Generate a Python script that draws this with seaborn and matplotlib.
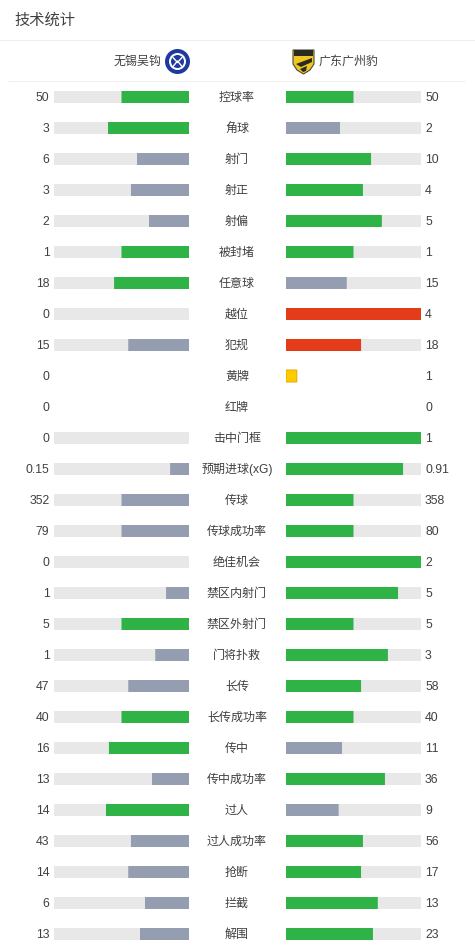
import matplotlib
matplotlib.use("Agg")
import matplotlib.pyplot as plt
from matplotlib.patches import Circle, Polygon, Rectangle
import pandas as pd
import seaborn as sns

sns.set_theme(style="white")
plt.rcParams['font.family'] = ['Liberation Sans', 'Noto Sans CJK SC', 'DejaVu Sans']
plt.rcParams['text.kerning_factor'] = 6

title = "技术统计"
home_team = "无锡吴钩"
away_team = "广东广州豹"
stats = ["控球率", "角球", "射门", "射正", "射偏", "被封堵", "任意球", "越位", "犯规", "黄牌",
         "红牌", "击中门框", "预期进球(xG)", "传球", "传球成功率", "绝佳机会", "禁区内射门",
         "禁区外射门", "门将扑救", "长传", "长传成功率", "传中", "传中成功率", "过人",
         "过人成功率", "抢断", "拦截", "解围"]
home_labels = ["50", "3", "6", "3", "2", "1", "18", "0", "15", "0", "0", "0", "0.15", "352",
               "79", "0", "1", "5", "1", "47", "40", "16", "13", "14", "43", "14", "6", "13"]
away_labels = ["50", "2", "10", "4", "5", "1", "15", "4", "18", "1", "0", "1", "0.91", "358",
               "80", "2", "5", "5", "3", "58", "40", "11", "36", "9", "56", "17", "13", "23"]
# bar lengths, percent of the track
home_share = [50, 60, 38.5, 43, 29.6, 50, 55.5, 0, 45, 0, 0, 0, 14, 50,
              50, 0, 17, 50, 25, 45, 50, 59.3, 27.4, 61.5, 43, 45, 32.6, 36.3]
away_share = [50, 40, 63, 57, 71, 50, 45, 100, 55.6, 8, 0, 100, 86.7, 50,
              50, 100, 83, 50, 75.5, 55.6, 50, 41.5, 73.3, 39, 57, 55.6, 68, 64.4]
home_track = [100] * 9 + [0, 0] + [100] * 17
away_track = [100] * 9 + [0, 0] + [100] * 17
home_kind = ["win", "win", "lose", "lose", "lose", "win", "win", "lose", "lose", "lose",
             "lose", "lose", "lose", "lose", "lose", "lose", "lose", "win", "lose", "lose",
             "win", "win", "lose", "win", "lose", "lose", "lose", "lose"]
away_kind = ["win", "lose", "win", "win", "win", "win", "lose", "foul", "foul", "card",
             "lose", "win", "win", "win", "win", "win", "win", "win", "win", "win",
             "win", "lose", "win", "lose", "win", "win", "win", "win"]

palette = {"win": "#2FB347", "lose": "#959DB0", "foul": "#E43B1A", "card": "#FFCC00"}
TRACK = "#E8E8E8"
TEXT = "#404040"
W, H = 475, 950
fig = plt.figure(figsize=(W / 100, H / 100), dpi=100, facecolor="white")

def axes_px(x0, x1, y0, y1):
    return fig.add_axes([x0 / W, 1 - y1 / H, (x1 - x0) / W, (y1 - y0) / H])

# rows are 31 px apart; first centre at y=97, so each axes spans 81.5..949.5
def side(x0, x1, share, track, kind, invert):
    ax = axes_px(x0, x1, 81.5, 949.5)
    df = pd.DataFrame({"stat": stats, "share": share, "track": track, "kind": kind})
    sns.barplot(df, y="stat", x="track", color=TRACK, width=12 / 31, saturation=1, ax=ax,
                order=stats, orient="h", zorder=1)
    sns.barplot(df, y="stat", x="share", hue="kind", palette=palette, width=12 / 31, saturation=1,
                dodge=False, ax=ax, order=stats, orient="h", legend=False, zorder=2)
    ax.set_xlim((100, 0) if invert else (0, 100))
    ax.set_ylim(27.5, -0.5)
    ax.axis("off")
    for p in ax.patches:
        p.set_snap(False)
        p.set_linewidth(0)
    return ax

ax_l = side(54, 189, home_share, home_track, home_kind, True)
ax_r = side(286, 421, away_share, away_track, away_kind, False)
for p in ax_r.patches:
    if p.get_facecolor()[:3] == matplotlib.colors.to_rgb(palette["card"]) and p.get_width() > 0:
        p.set_edgecolor("#E0A800"); p.set_linewidth(0.7)

ov = fig.add_axes([0, 0, 1, 1], zorder=5)
ov.set_xlim(0, W); ov.set_ylim(H, 0); ov.axis("off"); ov.patch.set_alpha(0)

ov.text(14.5, 20, title, fontsize=11, color=TEXT, va="center", ha="left")
ov.plot([0, W], [40.5, 40.5], color="#EEEEEE", lw=0.72, snap=False)
ov.plot([9, 465], [81.5, 81.5], color="#EEEEEE", lw=0.72, snap=False)
ov.text(162, 61.5, home_team, fontsize=8.64, color=TEXT, va="center", ha="right")
ov.text(319, 61.5, away_team, fontsize=8.64, color=TEXT, va="center", ha="left")

# club badges
ov.add_patch(Circle((177.5, 61.5), 12.5, fc="#1F3A9E", ec="none"))
ov.add_patch(Circle((177.5, 61.5), 8.5, fc="white", ec="none"))
ov.add_patch(Circle((177.5, 61.5), 6.5, fc="#1F3A9E", ec="none"))
ov.plot([173, 177.5, 182], [57.5, 62.5, 57.5], color="white", lw=1)
ov.plot([173, 177.5, 182], [66.5, 61, 66.5], color="white", lw=1)
ov.add_patch(Polygon([(293, 50), (314, 50), (314, 64), (310, 70), (303.5, 74), (297, 70), (293, 64)],
                     fc="#EFC723", ec="#4A4A38", lw=0.8))
ov.add_patch(Rectangle((294, 50), 19, 6, fc="#2A2A20", ec="none"))
ov.add_patch(Polygon([(296, 64), (312, 58), (312, 62), (301, 67)], fc="#2A2A20", ec="none"))
ov.add_patch(Polygon([(300, 69), (307, 66), (306, 71), (303, 72)], fc="#2A2A20", ec="none"))

for i, s in enumerate(stats):
    y = 100.8 + 31 * i
    ov.text(237, y, s, fontsize=8.64, color=TEXT, ha="center", va="baseline")
    ov.text(49.5, y, home_labels[i], fontsize=8.8, color=TEXT, ha="right", va="baseline")
    ov.text(425, y, away_labels[i], fontsize=8.8, color=TEXT, ha="left", va="baseline")

fig.savefig("out.png", dpi=100, facecolor="white")
